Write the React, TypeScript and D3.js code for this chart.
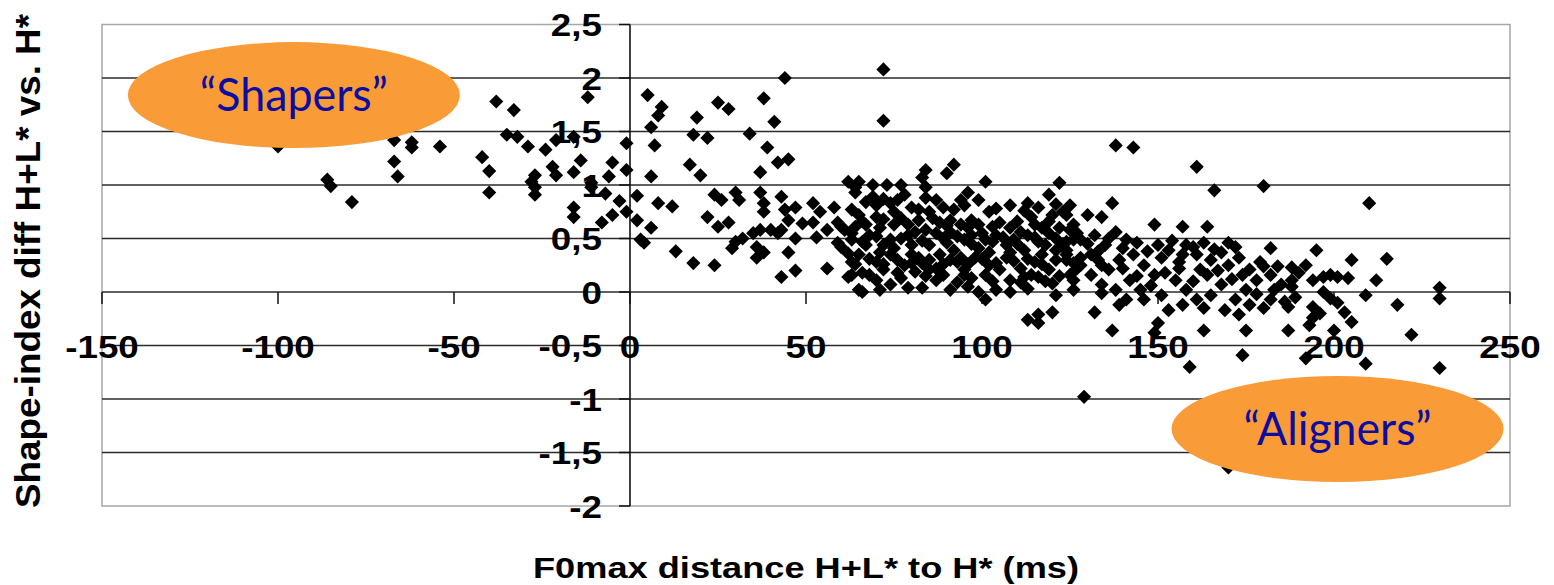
import * as d3 from "d3";

// chart size (matches the window)
const W = 1554;
const H = 585;
const PLOT = { left: 102, right: 1510, top: 24.5, bottom: 506 };

// axis ticks and titles
const xTicks = [-150, -100, -50, 0, 50, 100, 150, 200, 250];
const yTicks = [-2, -1.5, -1, -0.5, 0, 0.5, 1, 1.5, 2, 2.5];
const xTitle = "F0max distance H+L* to H* (ms)";
const yTitle = "Shape-index diff H+L* vs. H*";

// callouts: label, anchor in data units
const callouts = [
  { text: "\u201cShapers\u201d", x: -95.5, y: 1.84 },
  { text: "\u201cAligners\u201d", x: 201, y: -1.28 },
];

// [F0max distance (ms), shape-index diff]
const shaperPoints = [
  [-100, 1.36], [-86, 1.05], [-85, 0.99], [-79, 0.84], [-67, 1.42], [-67, 1.22], [-66, 1.08],
  [-62, 1.4], [-62, 1.35], [-54, 1.36], [-38, 1.78], [-33, 1.7], [-35, 1.47], [-32, 1.45],
  [-29, 1.36], [-24, 1.33], [-42, 1.26], [-40, 1.13], [-40, 0.93], [-22, 1.17], [-21, 1.09],
  [-27, 1.09], [-28, 1.03], [-27, 0.98], [-27, 0.91], [-12, 1.82], [-21, 1.42], [-16, 1.45],
  [-14, 1.23], [-16, 1.12], [-5, 1.21], [-6, 1.08], [-1, 1.39], [-1, 1.14], [-11, 1.02],
  [-7, 0.92], [-3, 0.85], [-16, 0.79], [-16, 0.7], [-5, 0.72], [-8, 0.65], [-1, 0.75], [-11, 0.98],
];

const nearZeroPoints = [
  [2, 0.9], [2, 0.67], [3, 0.49], [4, 0.46], [6, 0.6], [5, 1.84], [9, 1.73], [8, 1.65], [6, 1.54],
  [7, 1.37], [6, 1.08], [8, 0.83], [12, 0.8], [13, 0.38], [18, 0.27], [24, 0.25], [19, 1.63],
  [25, 1.77], [28, 1.71], [18, 1.47], [22, 1.44], [17, 1.19], [20, 1.09], [24, 0.91], [26, 0.86],
  [22, 0.7], [25, 0.61], [28, 0.65], [30, 0.93], [31, 0.86], [38, 1.81], [41, 1.59], [34, 1.48],
  [39, 1.35], [42, 1.21], [45, 1.24], [37, 1.12], [44, 2.0], [37, 0.93], [38, 0.83], [38, 0.75],
  [43, 0.89], [44, 0.77], [45, 0.67], [43, 0.58], [47, 0.79], [52, 0.83], [54, 0.75], [58, 0.79],
  [59, 0.65], [49, 0.64], [52, 0.65], [53, 0.51], [56, 0.58], [35, 0.55], [37, 0.58], [40, 0.58],
  [42, 0.55], [30, 0.47], [29, 0.41], [32, 0.5], [36, 0.42], [36, 0.32], [38, 0.37], [45, 0.37],
  [47, 0.5], [43, 0.14], [47, 0.2], [56, 0.22], [59, 0.46],
];

const corePoints = [
  [63, 0.77], [64, 0.61], [62, 0.36], [63, 0.28], [63, 0.16], [65, 0.02], [60, 0.61], [63, 0.55],
  [62, 1.03], [64, 0.98], [72, 2.08], [72, 1.6], [65, 1.03], [69, 1.0], [73, 1.0], [77, 1.0],
  [84, 1.14], [83, 1.07], [84, 0.98], [92, 1.19], [90, 1.11], [96, 0.93], [101, 1.03], [122, 1.02],
  [64, 0.93], [69, 0.89], [74, 0.83], [78, 0.91], [80, 0.79], [82, 0.77], [87, 0.86], [89, 0.79],
  [75, 0.75], [65, 0.72], [70, 0.7], [67, 0.63], [77, 0.69], [82, 0.67], [91, 0.67], [102, 0.75],
  [97, 0.67], [105, 0.65], [99, 0.63], [113, 0.83], [116, 0.79], [114, 0.7], [120, 0.72],
  [123, 0.75], [126, 0.63], [61, 0.58], [63, 0.49], [60, 0.42],
  [68, 0.53], [72, 0.44], [77, 0.5], [81, 0.56], [85, 0.44], [89, 0.5], [92, 0.39], [95, 0.49],
  [99, 0.41], [104, 0.53], [107, 0.44], [109, 0.49], [112, 0.39], [115, 0.51], [118, 0.44],
  [121, 0.5], [124, 0.39], [126, 0.49], [65, 0.35], [70, 0.28], [74, 0.35], [78, 0.25], [82, 0.32],
  [87, 0.22], [91, 0.3], [95, 0.21], [98, 0.32], [102, 0.25], [107, 0.32], [111, 0.22], [115, 0.28],
  [119, 0.21], [124, 0.3], [127, 0.22], [62, 0.14], [66, 0.18], [66, 0.0], [70, 0.11], [74, 0.07],
  [87, 0.11], [85, 0.21], [83, 0.27], [99, 0.0], [101, -0.07], [104, 0.02], [111, 0.09], [116, 0.14],
  [120, 0.08], [126, 0.02], [113, -0.26], [116, -0.21], [120, -0.19], [116, -0.29],
  [71, 0.6], [75, 0.63], [80, 0.44], [84, 0.58], [88, 0.65], [91, 0.56], [94, 0.63], [97, 0.53],
  [101, 0.49], [108, 0.6], [111, 0.56], [117, 0.6], [122, 0.6], [124, 0.47], [67, 0.44], [71, 0.37],
  [75, 0.41], [80, 0.35], [88, 0.35], [94, 0.32], [102, 0.37], [108, 0.37], [117, 0.35], [121, 0.39],
  [68, 0.16], [72, 0.21], [77, 0.13], [81, 0.19], [89, 0.16], [93, 0.09], [97, 0.13], [101, 0.16],
  [105, 0.21], [108, 0.11], [114, 0.16], [122, 0.15], [79, 0.04], [91, 0.02], [108, 0.0], [95, 0.81],
  [99, 0.86], [92, 0.77], [108, 0.81], [119, 0.91], [125, 0.81], [70, 0.81], [85, 0.75],
  [66, 0.47], [70, 0.52], [74, 0.49], [79, 0.53], [83, 0.48], [87, 0.55], [90, 0.46], [93, 0.52],
  [97, 0.45], [100, 0.55], [103, 0.47], [106, 0.51], [110, 0.45], [113, 0.53], [116, 0.47],
  [119, 0.55], [123, 0.45], [127, 0.55], [64, 0.26], [68, 0.31], [72, 0.26], [76, 0.3], [80, 0.27],
  [85, 0.3], [89, 0.26], [93, 0.28], [96, 0.26], [100, 0.31], [104, 0.27], [109, 0.29], [113, 0.31],
  [117, 0.26], [121, 0.3], [126, 0.27], [66, 0.66], [72, 0.68], [79, 0.63], [86, 0.69], [90, 0.62],
  [96, 0.6], [103, 0.61], [110, 0.66], [115, 0.63], [119, 0.66], [67, 0.84], [72, 0.87], [76, 0.86],
  [84, 0.88], [94, 0.86], [104, 0.78], [112, 0.76], [121, 0.82], [76, 0.18], [84, 0.15], [95, 0.16],
  [103, 0.1], [112, 0.14], [118, 0.1], [125, 0.16], [71, 0.02], [83, 0.04], [96, 0.05], [113, 0.03],
  [121, -0.03],
];

const alignerPoints = [
  [138, 1.37], [143, 1.35], [161, 1.17], [166, 0.95], [180, 0.99], [137, 0.83], [130, 0.72],
  [134, 0.7], [149, 0.63], [157, 0.61], [164, 0.61], [172, 0.42], [182, 0.41], [188, 0.23],
  [124, 0.72], [125, 0.58], [128, 0.49], [132, 0.53], [135, 0.44], [138, 0.56], [141, 0.49],
  [143, 0.35], [124, 0.35], [128, 0.25], [131, 0.16], [134, 0.07], [136, 0.21], [139, 0.3],
  [142, 0.11], [145, 0.02], [146, 0.25], [149, 0.16], [151, 0.32], [153, 0.39], [156, 0.28],
  [158, 0.44], [161, 0.35], [162, 0.21], [165, 0.3], [168, 0.37], [170, 0.25], [173, 0.32],
  [176, 0.21], [178, 0.11], [179, 0.28], [182, 0.16], [185, 0.07], [188, 0.11], [155, 0.11],
  [158, 0.02], [161, -0.07], [165, -0.03], [168, 0.07], [172, -0.07], [175, 0.02], [151, -0.03],
  [153, -0.17], [146, -0.07], [169, -0.17], [173, -0.21], [176, -0.12], [182, -0.07], [186, -0.09],
  [189, -0.05], [132, -0.19], [137, -0.36], [150, -0.29], [149, -0.38], [163, -0.36], [175, -0.36],
  [174, -0.59], [159, -0.7], [187, -0.36], [129, -0.98], [170, -1.64], [126, 0.11], [131, 0.35],
  [134, 0.25], [138, 0.02], [141, -0.07], [134, -0.01], [139, -0.12],
  [130, 0.45], [133, 0.38], [136, 0.5], [140, 0.41], [144, 0.46], [147, 0.38], [150, 0.44],
  [154, 0.48], [157, 0.35], [160, 0.42], [163, 0.46], [166, 0.4], [170, 0.46], [128, 0.32],
  [133, 0.3], [140, 0.22], [144, 0.15], [148, 0.06], [152, 0.18], [156, 0.22], [160, 0.1],
  [164, 0.16], [167, 0.2], [171, 0.12], [174, 0.16], [180, 0.24], [184, 0.24], [178, -0.02],
  [183, 0.02], [180, -0.15], [157, -0.12], [163, -0.15],
  [210, 0.83], [195, 0.39], [192, 0.25], [190, 0.18], [194, 0.11], [205, 0.3], [215, 0.31],
  [212, 0.11], [197, 0.14], [199, 0.16], [201, 0.14], [204, 0.13], [188, 0.05], [187, -0.14],
  [197, 0.0], [199, -0.06], [201, -0.1], [203, -0.19], [209, -0.03], [194, -0.14], [196, -0.2],
  [194, -0.24], [193, -0.31], [205, -0.28], [200, -0.36], [218, -0.12], [230, 0.04], [230, -0.06],
  [222, -0.4], [192, -0.62], [209, -0.67], [230, -0.71],
];

const FONT = "'Liberation Sans', Arial, sans-serif";

export default function App() {
  const x = d3.scaleLinear().domain([-150, 250]).range([PLOT.left, PLOT.right]);
  const y = d3.scaleLinear().domain([-2, 2.5]).range([PLOT.bottom, PLOT.top]);
  const x0 = x(0);
  const y0 = y(0);

  const diamond = d3.symbol(d3.symbolSquare, 100)();
  const points = [...shaperPoints, ...nearZeroPoints, ...corePoints, ...alignerPoints];
  const fmt = (v: number) => String(v).replace(".", ",");

  return (
    <svg
      width={W}
      height={H}
      style={{ position: "absolute", left: 0, top: 0, display: "block", background: "#fff" }}
    >
      {/* plot frame */}
      <rect
        x={PLOT.left}
        y={PLOT.top}
        width={PLOT.right - PLOT.left}
        height={PLOT.bottom - PLOT.top}
        fill="#fff"
        stroke="#a6a6a6"
        strokeWidth={1.5}
      />

      {/* horizontal gridlines */}
      {yTicks
        .filter((t) => t > -2 && t < 2.5)
        .map((t) => (
          <line key={"g" + t} x1={PLOT.left} x2={PLOT.right} y1={y(t)} y2={y(t)} stroke="#2b2b2b" strokeWidth={1.6} />
        ))}

      {/* y axis at x = 0 */}
      <line x1={x0} x2={x0} y1={PLOT.top} y2={PLOT.bottom} stroke="#111" strokeWidth={1.6} />
      {yTicks.map((t) => (
        <line key={"yt" + t} x1={x0 - 11} x2={x0} y1={y(t)} y2={y(t)} stroke="#111" strokeWidth={1.5} />
      ))}

      {/* x axis ticks at y = 0 */}
      {xTicks.map((t) => (
        <line key={"xt" + t} x1={x(t)} x2={x(t)} y1={y0} y2={y0 + 12} stroke="#111" strokeWidth={1.5} />
      ))}

      {/* tick labels */}
      {yTicks.map((t) => (
        <text
          key={"yl" + t}
          transform={`translate(${x0 - 28},${y(t) + 11.5}) scale(1.15,1)`}
          textAnchor="end"
          fontFamily={FONT}
          fontWeight="bold"
          fontSize={32}
          fill="#000"
        >
          {fmt(t)}
        </text>
      ))}
      {xTicks.map((t) => (
        <text
          key={"xl" + t}
          transform={`translate(${x(t)},${y0 + 66}) scale(1.15,1)`}
          textAnchor="middle"
          fontFamily={FONT}
          fontWeight="bold"
          fontSize={32}
          fill="#000"
        >
          {t}
        </text>
      ))}

      {/* points */}
      <g fill="#000">
        {points.map((p, i) => (
          <path key={i} d={diamond} transform={`translate(${x(p[0])},${y(p[1])}) rotate(45)`} />
        ))}
      </g>

      {/* callouts */}
      {callouts.map((c) => (
        <g key={c.text} transform={`translate(${x(c.x)},${y(c.y)})`}>
          <ellipse rx={166} ry={53} fill="#F99B37" />
          <text
            y={16}
            textAnchor="middle"
            fontFamily="Lato, 'Open Sans', sans-serif"
            fontSize={46}
            textLength={188}
            lengthAdjust="spacingAndGlyphs"
            fill="#0c0ca0"
          >
            {c.text}
          </text>
        </g>
      ))}

      {/* axis titles */}
      <text
        x={(PLOT.left + PLOT.right) / 2}
        y={578}
        textAnchor="middle"
        fontFamily={FONT}
        fontWeight="bold"
        fontSize={30}
        textLength={546}
        lengthAdjust="spacingAndGlyphs"
        fill="#000"
      >
        {xTitle}
      </text>
      <text
        transform="translate(40,261) rotate(-90)"
        textAnchor="middle"
        fontFamily={FONT}
        fontWeight="bold"
        fontSize={35}
        textLength={494}
        lengthAdjust="spacingAndGlyphs"
        fill="#000"
      >
        {yTitle}
      </text>
    </svg>
  );
}
